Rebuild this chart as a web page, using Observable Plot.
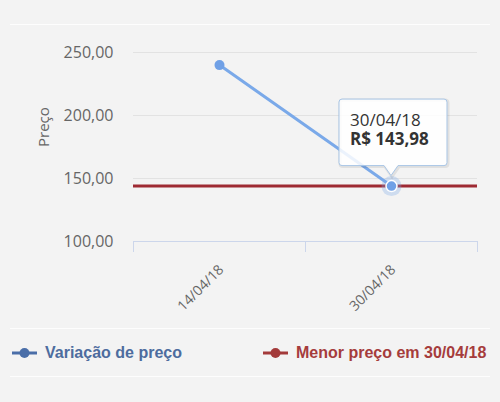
<!DOCTYPE html>
<html><head><meta charset="utf-8">
<script src="https://cdn.jsdelivr.net/npm/d3@7"></script>
<script src="https://cdn.jsdelivr.net/npm/@observablehq/plot@0.6"></script>
<style>
html,body{margin:0;padding:0;background:#f3f3f3;width:500px;height:402px;overflow:hidden}
#top{height:24px;margin:0 10px;border-bottom:1px solid #fdfdfd}
#chart svg{display:block}
#legend{position:relative;height:47px;margin:0 10px;border-top:1px solid #fdfdfd;border-bottom:1px solid #fdfdfd;font:bold 16px "Liberation Sans",Arial,sans-serif}
.item{position:absolute;top:0;height:47px;display:flex;align-items:center;white-space:nowrap}
.item svg{margin-right:8px;display:block}
</style></head><body>
<div id="top"></div>
<div id="chart"></div>
<div id="legend"></div>
<script>
const dates = ["14/04/18", "30/04/18"];
const prices = [240, 143.98];
const minPrice = 143.98;
const minDate = "30/04/18";
const yTicks = [100, 150, 200, 250];
const seriesNames = ["Variação de preço", "Menor preço em " + minDate];
const seriesColors = ["#4a6ea8", "#a33a3a"];
const legendTextColors = ["#4d6c9e", "#a53c3c"];

const data = dates.map((d, i) => ({date: d, i: i + 0.5, price: prices[i]}));
const last = data[data.length - 1];
const fmt = v => v.toFixed(2).replace(".", ",");

const chart = Plot.plot({
  width: 500, height: 303,
  marginTop: 27, marginBottom: 87, marginLeft: 133, marginRight: 23,
  style: {background: "transparent", fontFamily: "'Open Sans', sans-serif", overflow: "visible"},
  x: {type: "linear", domain: [0, dates.length]},
  y: {domain: [100, 250]},
  marks: [
    Plot.ruleY(yTicks.filter(t => t > 100), {stroke: "#e2e2e2", strokeWidth: 1}),
    Plot.ruleY([100], {stroke: "#ccd6eb", strokeWidth: 1}),
    Plot.axisY(yTicks, {anchor: "left", tickSize: 0, tickPadding: 20, tickFormat: fmt, fontSize: 16, fill: "#666", label: null}),
    Plot.axisX(d3.range(dates.length + 1), {anchor: "bottom", tickSize: 11, stroke: "#ccd6eb", tickFormat: () => "", label: null}),
    Plot.text(data, {x: "i", frameAnchor: "bottom", text: "date", rotate: -45, textAnchor: "end", lineAnchor: "bottom", dx: 5, dy: 29, fontSize: 14, fill: "#666"}),
    Plot.text(["Preço"], {frameAnchor: "left", text: d => d, dx: -89, rotate: -90, fontSize: 15, fill: "#666"}),
    Plot.ruleY([minPrice], {stroke: "#9e2a33", strokeWidth: 3}),
    Plot.line(data, {x: "i", y: "price", stroke: "#7aa9e9", strokeWidth: 3}),
    Plot.dot(data.slice(0, -1), {x: "i", y: "price", r: 5, fill: "#6fa0e6"}),
    Plot.dot([last], {x: "i", y: "price", r: 10, fill: "#7aa9e9", fillOpacity: 0.3}),
    Plot.dot([last], {x: "i", y: "price", r: 5.5, fill: "#6fa0e6", stroke: "#fff", strokeWidth: 1.5})
  ]
});
document.getElementById("chart").appendChild(chart);

// Tooltip anchored on the last point through Plot's own scales
const px = chart.scale("x").apply(last.i);
const py = chart.scale("y").apply(last.price);
const g = d3.select(chart).append("g").attr("transform", `translate(${px},${py})`)
  .attr("text-anchor", "start");
const tipPath = "M-49,-86.5 H53 Q56,-86.5 56,-83.5 V-23 Q56,-20 53,-20 H7 L0,-10 L-7,-20 H-49 Q-52,-20 -52,-23 V-83.5 Q-52,-86.5 -49,-86.5 Z";
g.append("path").attr("d", tipPath).attr("transform", "translate(1,1)")
  .attr("fill", "none").attr("stroke", "rgba(0,0,0,0.08)").attr("stroke-width", 3);
g.append("path").attr("d", tipPath).attr("fill", "rgba(255,255,255,0.85)")
  .attr("stroke", "#a9c6e6").attr("stroke-width", 1);
g.append("text").attr("x", -41).attr("y", -60).attr("fill", "#333").attr("text-anchor", "start")
  .attr("font-family", "'Open Sans', sans-serif").attr("font-size", 17).text(last.date);
g.append("text").attr("x", -41).attr("y", -41).attr("fill", "#333").attr("font-weight", "bold").attr("text-anchor", "start")
  .attr("font-family", "'Open Sans', sans-serif").attr("font-size", 17).text("R$ " + fmt(last.price));

// Legend
const legend = d3.select("#legend");
const lefts = [2, 253];
seriesNames.forEach((name, k) => {
  const item = legend.append("div").attr("class", "item").style("left", lefts[k] + "px");
  const s = item.append("svg").attr("width", 25).attr("height", 12);
  s.append("line").attr("x1", 0).attr("x2", 25).attr("y1", 6).attr("y2", 6)
    .attr("stroke", seriesColors[k]).attr("stroke-width", 3);
  s.append("circle").attr("cx", 12.5).attr("cy", 6).attr("r", 5).attr("fill", seriesColors[k]);
  item.append("span").style("color", legendTextColors[k]).text(name);
});
</script>
</body></html>
